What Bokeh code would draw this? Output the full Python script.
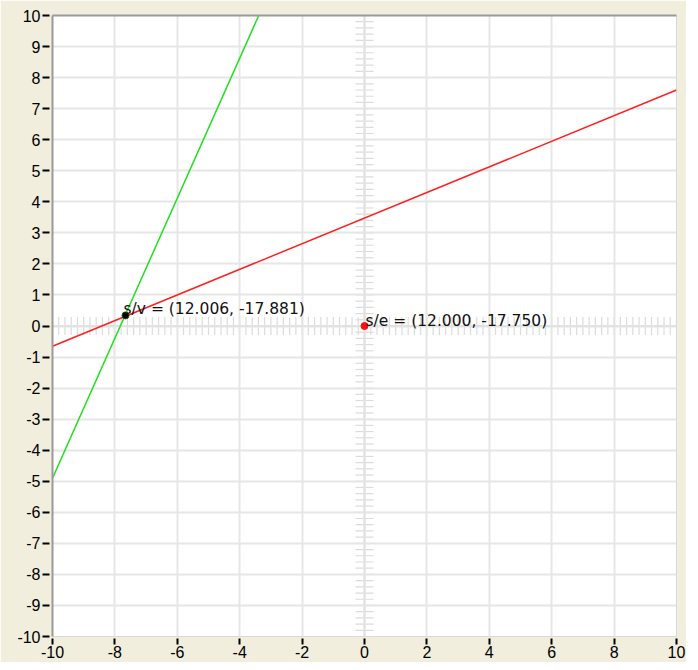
import numpy as np
from bokeh.plotting import figure
from bokeh.models import FixedTicker, LinearAxis, Span
from bokeh.core.properties import value
from bokeh.embed import file_html
from bokeh.resources import INLINE

# data
x_ticks = list(range(-10, 11, 2))
y_ticks = list(range(-10, 11))
green_x = [-10, -3.39]
green_y = [-4.9, 10]
red_x = [-10, 10]
red_y = [-0.65, 7.6]
sv_pt = (-7.66, 0.34)
se_pt = (0.0, 0.0)
sv_label = "s/v = (12.006, -17.881)"
se_label = "s/e = (12.000, -17.750)"

BG = "#F1EEDD"
FONT = "Liberation Sans"
LFONT = "DejaVu Sans"

p = figure(width=686, height=662, x_range=(-10, 10), y_range=(-10, 10),
           output_backend="svg", toolbar_location=None,
           min_border_left=52, min_border_right=10, min_border_top=15, min_border_bottom=26)
p.border_fill_color = BG
p.background_fill_color = "white"
p.outline_line_color = "#D8D8D8"
p.outline_line_width = 1

p.xaxis.ticker = FixedTicker(ticks=x_ticks)
p.yaxis.ticker = FixedTicker(ticks=y_ticks)
p.xaxis.major_label_overrides = {t: str(t) for t in x_ticks}
p.yaxis.major_label_overrides = {t: str(t) for t in y_ticks}
for ax in (p.xaxis[0], p.yaxis[0]):
    ax.minor_tick_line_color = None
    ax.major_tick_line_color = "black"
    ax.major_tick_line_width = 2
    ax.major_label_text_font = FONT
    ax.major_label_text_font_size = "16px"
    ax.major_label_text_color = "black"
    ax.major_label_standoff = 2
p.yaxis.axis_line_color = "#9A9A9A"
p.yaxis.axis_line_width = 2
p.yaxis.major_tick_in = -3
p.yaxis.major_tick_out = 10
p.xaxis.axis_line_color = None
p.xaxis.major_tick_in = -2
p.xaxis.major_tick_out = 8
p.xaxis.major_label_standoff = 1

top = LinearAxis(ticker=FixedTicker(ticks=[]), axis_line_color="#9A9A9A", axis_line_width=2,
                 major_label_text_font_size="0px", minor_tick_line_color=None,
                 major_tick_line_color=None)
p.add_layout(top, "above")

p.grid.grid_line_color = "#E6E6E6"
p.grid.grid_line_width = 2

# center axes
p.add_layout(Span(location=0, dimension="width", line_color="#E2E2E2", line_width=2, level="underlay"))
p.add_layout(Span(location=0, dimension="height", line_color="#E2E2E2", line_width=2, level="underlay"))
minor = np.round(np.arange(-10, 10.001, 0.2), 3)
p.rect(x=minor, y=np.zeros_like(minor), width=1.2, height=18, width_units="screen",
       height_units="screen", fill_color="#DCDCDC", line_color=None, level="underlay")
p.rect(x=np.zeros_like(minor), y=minor, width=18, height=1.2, width_units="screen",
       height_units="screen", fill_color="#DCDCDC", line_color=None, level="underlay")

p.line(red_x, red_y, line_color="#FF2020", line_width=1.5)
p.line(green_x, green_y, line_color="#20E020", line_width=1.5)

p.scatter([sv_pt[0]], [sv_pt[1]], size=7, fill_color="black", line_color="#205020")
p.scatter([se_pt[0]], [se_pt[1]], size=7, fill_color="#FF1010", line_color="#FF1010")

p.text([sv_pt[0]], [sv_pt[1]], text=[sv_label], text_font=value(LFONT), text_font_size="15.5px",
       text_color="#111111", text_align="left", text_baseline="alphabetic", x_offset=-2, y_offset=-6)
p.text([se_pt[0]], [se_pt[1]], text=[se_label], text_font=value(LFONT), text_font_size="15.5px",
       text_color="#111111", text_align="left", text_baseline="alphabetic", x_offset=1, y_offset=-5)

open("out.html", "w").write(file_html(p, INLINE))
